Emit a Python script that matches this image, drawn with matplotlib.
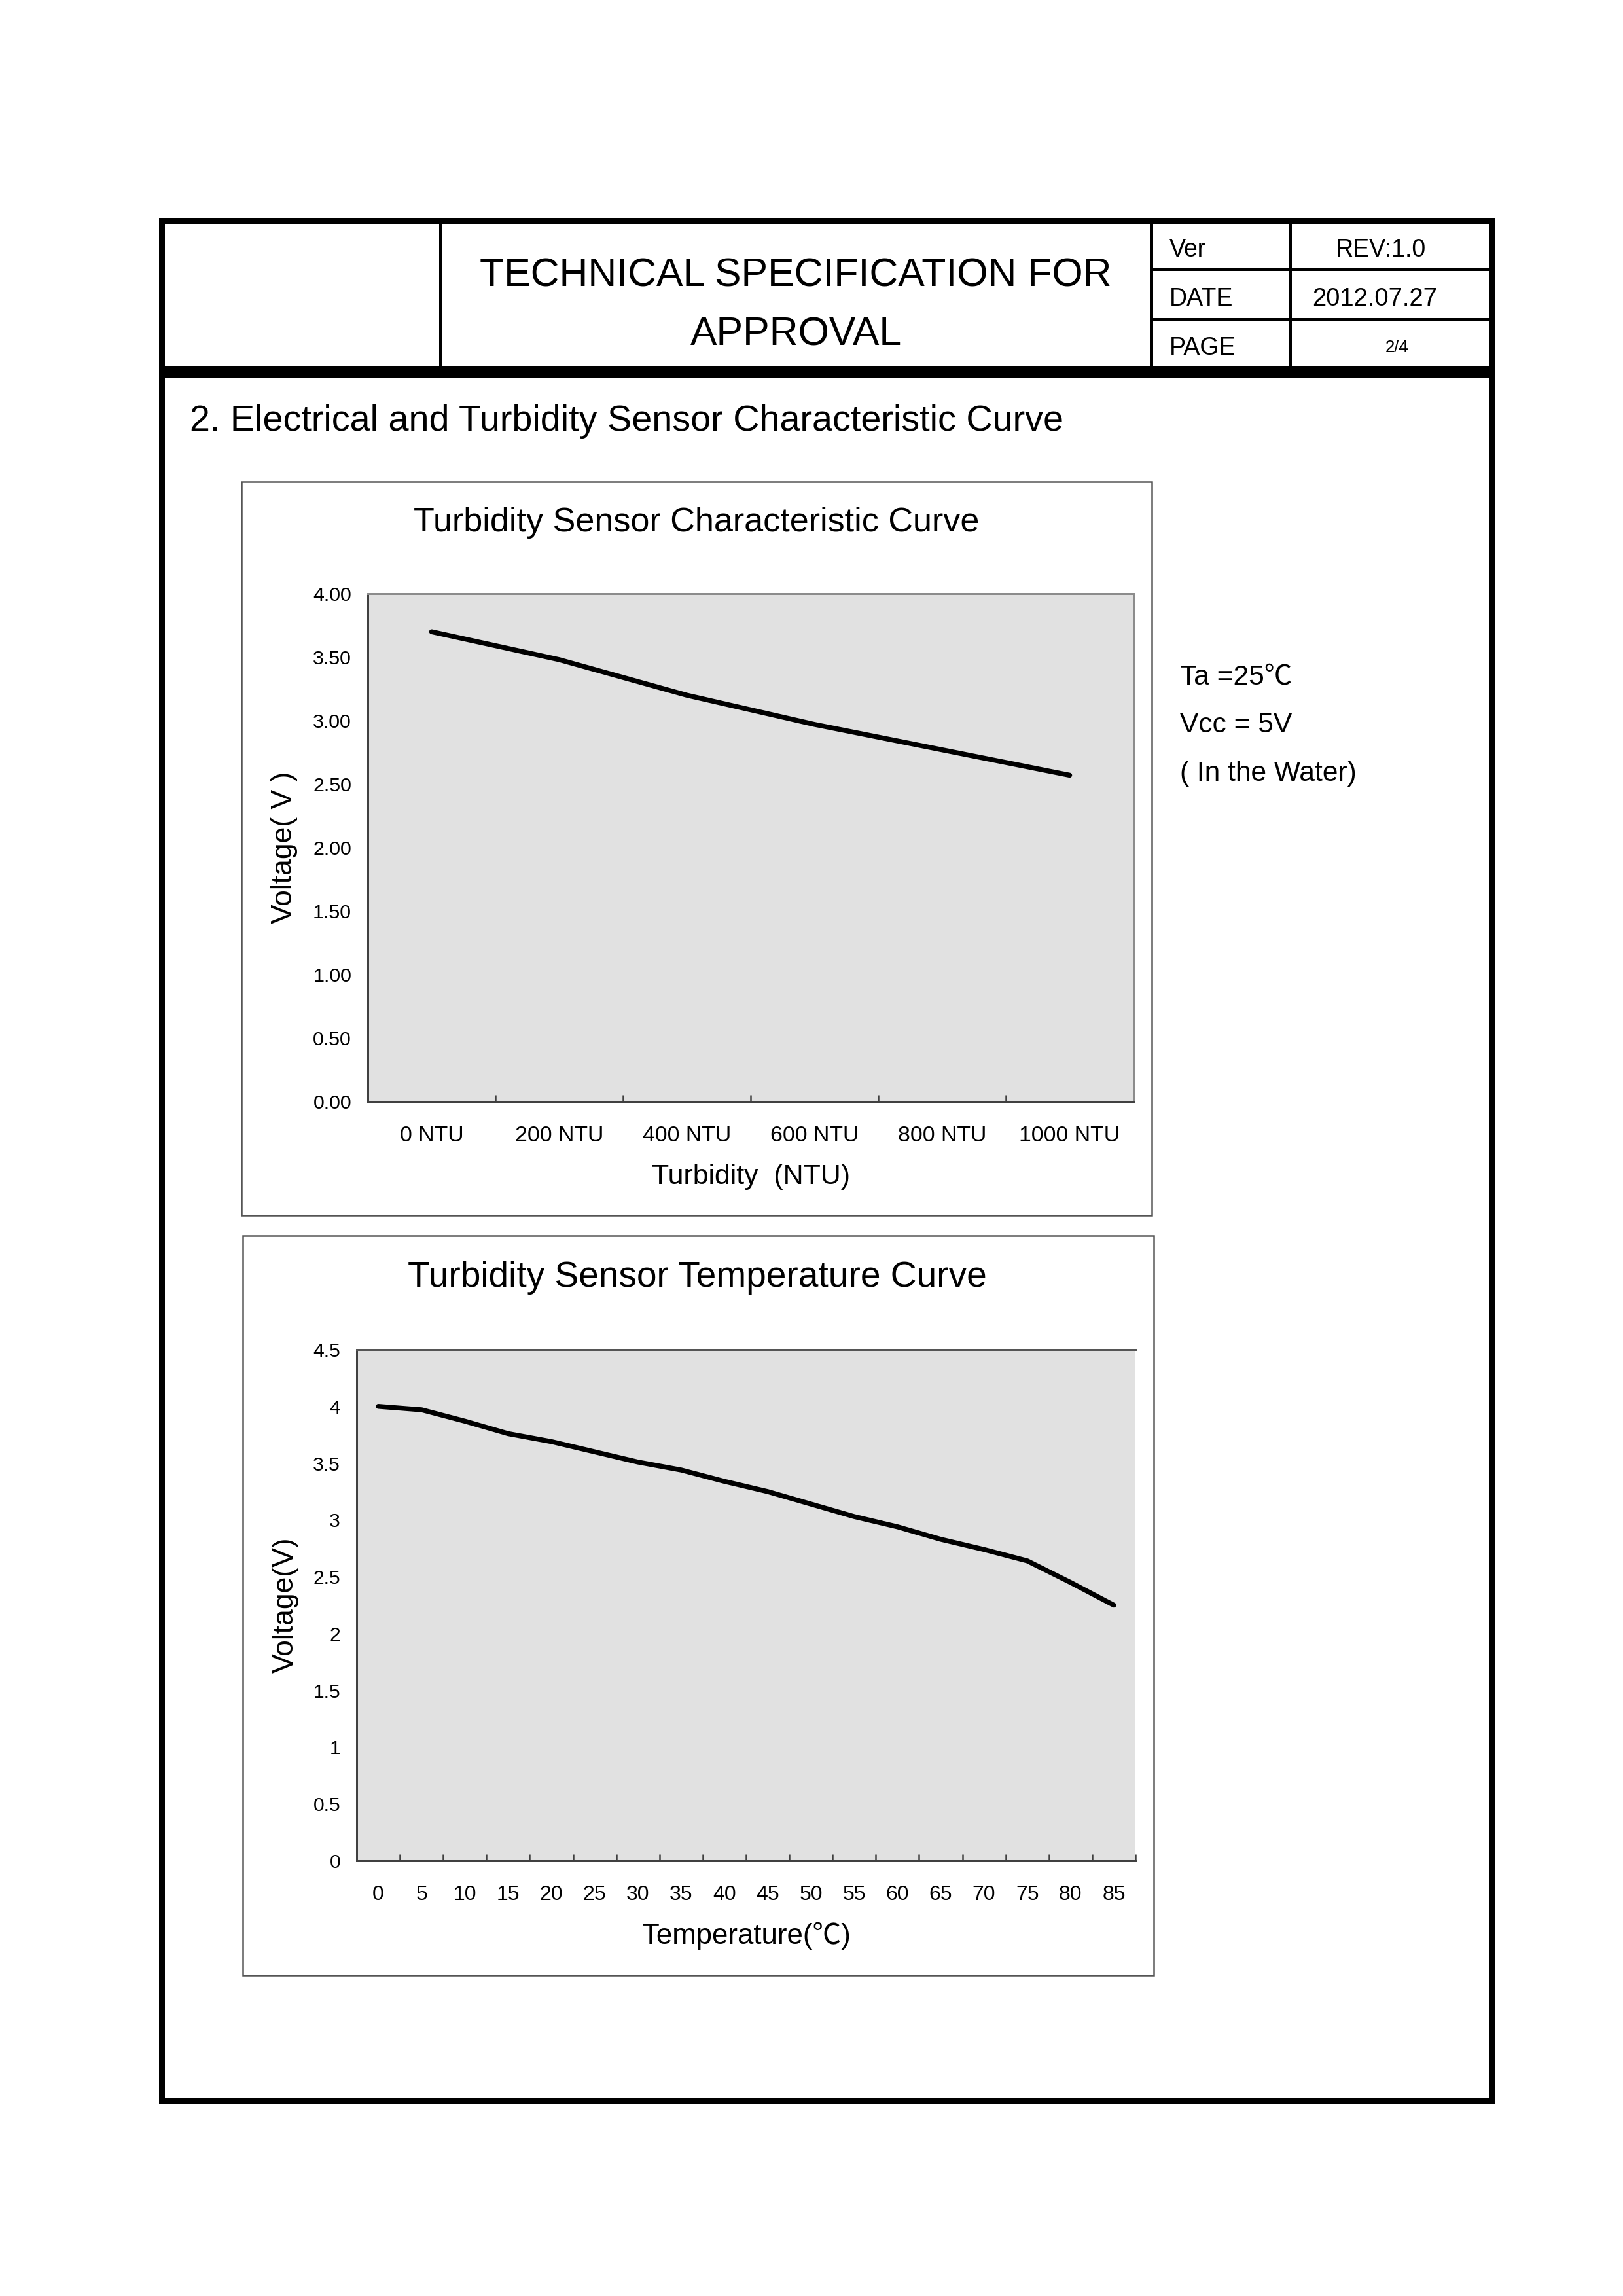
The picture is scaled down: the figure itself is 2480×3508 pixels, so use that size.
"""Turbidity sensor spec sheet page 2/4: characteristic and temperature curves."""

import matplotlib

matplotlib.use("Agg")
import matplotlib.pyplot as plt
from matplotlib import font_manager
from matplotlib.patches import Rectangle

W, H = 2480, 3508
DPI = 300

# turbidity curve
ntu_labels = ["0 NTU", "200 NTU", "400 NTU", "600 NTU", "800 NTU", "1000 NTU"]
ntu_voltage = [3.70, 3.48, 3.20, 2.97, 2.77, 2.57]
ntu_yticks = [0.0, 0.5, 1.0, 1.5, 2.0, 2.5, 3.0, 3.5, 4.0]
ntu_ytick_labels = ["0.00", "0.50", "1.00", "1.50", "2.00", "2.50", "3.00", "3.50", "4.00"]

# temperature curve
temp_labels = ["0", "5", "10", "15", "20", "25", "30", "35", "40",
               "45", "50", "55", "60", "65", "70", "75", "80", "85"]
temp_voltage = [4.00, 3.97, 3.87, 3.76, 3.69, 3.60, 3.51, 3.44, 3.34,
                3.25, 3.14, 3.03, 2.94, 2.83, 2.74, 2.64, 2.45, 2.25]
temp_yticks = [0.0, 0.5, 1.0, 1.5, 2.0, 2.5, 3.0, 3.5, 4.0, 4.5]
temp_ytick_labels = ["0", "0.5", "1", "1.5", "2", "2.5", "3", "3.5", "4", "4.5"]

conditions = ["Ta =25\u2103", "Vcc = 5V", "( In the Water)"]

plt.rcParams["font.family"] = ["Liberation Sans", "Noto Sans CJK KR", "DejaVu Sans"]


def pt(px):
    return px * 72 / DPI


def rect(x0, y0, x1, y1):
    return [x0 / W, 1 - y1 / H, (x1 - x0) / W, (y1 - y0) / H]


installed = {f.name for f in font_manager.fontManager.ttflist}
if "Liberation Sans Narrow" in installed:
    head_family, head_size = ["Liberation Sans Narrow"], 18
else:
    head_family, head_size = ["Liberation Sans"], 14.6

fig = plt.figure(figsize=(W / DPI, H / DPI), dpi=DPI, facecolor="white")
page = fig.add_axes([0, 0, 1, 1])
page.set_xlim(0, W)
page.set_ylim(H, 0)
page.axis("off")

# page frame and header table
page.add_patch(Rectangle((247, 337), 2033, 2872, fill=False, ec="black", lw=pt(9)))
page.add_patch(Rectangle((247, 559), 2033, 18, fc="black", ec="none"))
for x in (673, 1760, 1972):
    page.plot([x, x], [337, 562], color="black", lw=pt(4))
for y in (412, 488):
    page.plot([1760, 2280], [y, y], color="black", lw=pt(4))

page.text(1216, 438, "TECHNICAL SPECIFICATION FOR", ha="center", va="baseline",
          fontsize=head_size, family=head_family)
page.text(1216, 528, "APPROVAL", ha="center", va="baseline",
          fontsize=head_size, family=head_family)
for label, y in (("Ver", 392), ("DATE", 467), ("PAGE", 542)):
    page.text(1787, y, label, ha="left", va="baseline", fontsize=9)
page.text(2110, 392, "REV:1.0", ha="center", va="baseline", fontsize=9)
page.text(2101, 467, "2012.07.27", ha="center", va="baseline", fontsize=9.2)
page.text(2135, 538, "2/4", ha="center", va="baseline", fontsize=6.2)

page.text(290, 658, "2. Electrical and Turbidity Sensor Characteristic Curve",
          ha="left", va="baseline", fontsize=13.4)

for text, y in zip(conditions, (1045, 1119, 1193)):
    page.text(1803, y, text, ha="left", va="baseline", fontsize=10.2)

# chart frames
page.add_patch(Rectangle((369, 736), 1391, 1121, fill=False, ec="#555555", lw=pt(2.5)))
page.add_patch(Rectangle((371, 1888), 1392, 1130, fill=False, ec="#555555", lw=pt(2.5)))
page.text(1064, 812, "Turbidity Sensor Characteristic Curve", ha="center",
          va="baseline", fontsize=12.5)
page.text(1065, 1966, "Turbidity Sensor Temperature Curve", ha="center",
          va="baseline", fontsize=13.2)


def style_axis(ax, n, labels, yticks, ylabels, xsize, ysize):
    ax.set_facecolor("#e1e1e1")
    ax.set_xlim(-0.5, n - 0.5)
    ax.set_ylim(yticks[0], yticks[-1])
    ax.set_xticks(range(n), labels=labels)
    ax.set_xticks([i - 0.5 for i in range(n + 1)], minor=True)
    ax.set_yticks(yticks, labels=ylabels)
    ax.tick_params(axis="x", which="major", length=0, pad=pt(37), labelsize=xsize)
    ax.tick_params(axis="x", which="minor", direction="in", length=pt(10),
                   width=pt(2.5), color="#404040")
    ax.tick_params(axis="y", length=0, pad=pt(25), labelsize=ysize)
    for side in ("left", "bottom"):
        ax.spines[side].set_color("#404040")
        ax.spines[side].set_linewidth(pt(3))


# turbidity characteristic
ax1 = fig.add_axes(rect(562, 907, 1732, 1683))
ax1.plot(range(len(ntu_voltage)), ntu_voltage, color="black", lw=1.8,
         solid_capstyle="round", solid_joinstyle="round")
style_axis(ax1, len(ntu_labels), ntu_labels, ntu_yticks, ntu_ytick_labels, 8.1, 7.3)
ax1.spines["top"].set_color("#8c8c8c")
ax1.spines["right"].set_color("#8c8c8c")
ax1.spines["top"].set_linewidth(pt(3))
ax1.spines["right"].set_linewidth(pt(3))
ax1.set_xlabel("Turbidity  (NTU)", fontsize=10.3, va="baseline")
ax1.xaxis.set_label_coords(0.5, (1683 - 1809) / 776)
ax1.set_ylabel("Voltage( V )", fontsize=10.7, va="center")
ax1.yaxis.set_label_coords((434 - 562) / 1170, 0.5)

# temperature curve
ax2 = fig.add_axes(rect(545, 2062, 1735, 2843))
ax2.plot(range(len(temp_voltage)), temp_voltage, color="black", lw=1.8,
         solid_capstyle="round", solid_joinstyle="round")
style_axis(ax2, len(temp_labels), temp_labels, temp_yticks, temp_ytick_labels, 7.7, 7.2)
ax2.spines["top"].set_color("#555555")
ax2.spines["top"].set_linewidth(pt(3))
ax2.spines["right"].set_visible(False)
ax2.set_xlabel("Temperature(\u2103)", fontsize=10.5, va="baseline")
ax2.xaxis.set_label_coords(0.5, (2843 - 2970) / 781)
ax2.set_ylabel("Voltage(V)", fontsize=10.7, va="center")
ax2.yaxis.set_label_coords((436 - 545) / 1190, 0.5)

fig.savefig("out.png", dpi=DPI, facecolor="white")
